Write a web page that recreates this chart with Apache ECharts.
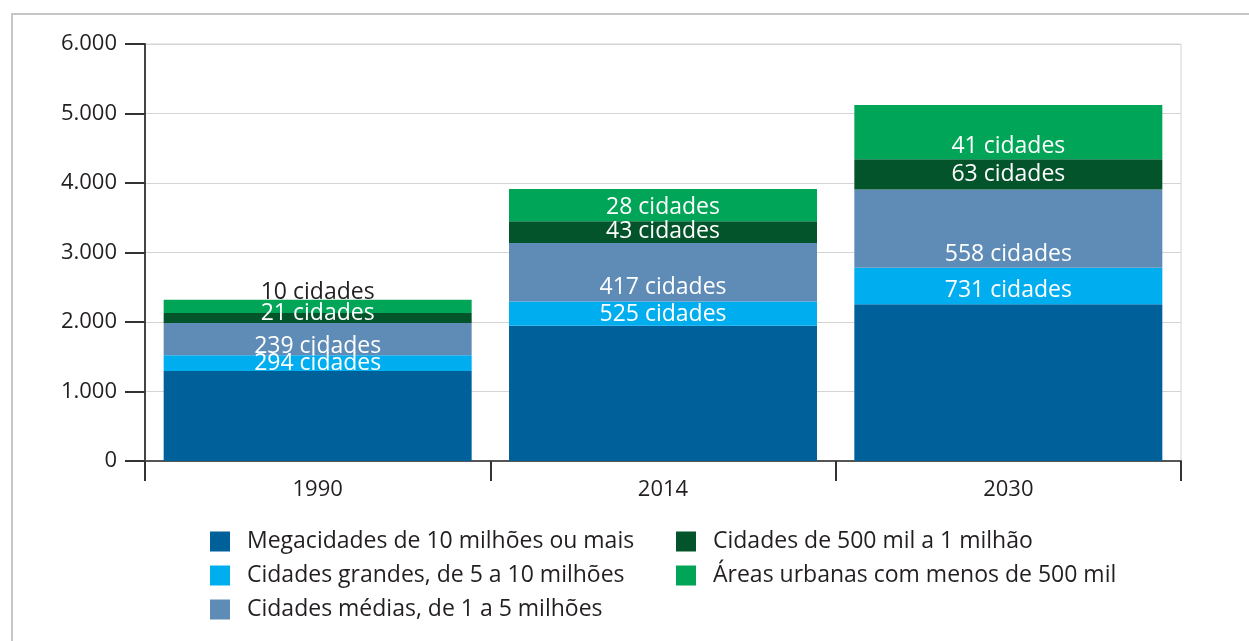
<!DOCTYPE html>
<html>
<head>
<meta charset="utf-8">
<script src="https://cdn.jsdelivr.net/npm/echarts@6/dist/echarts.min.js"></script>
<style>
  html, body { margin: 0; padding: 0; background: #fff; }
  #chart { width: 1249px; height: 641px; }
</style>
</head>
<body>
<div id="chart"></div>
<script>
// anos
var years = ['1990', '2014', '2030'];

// população urbana (milhões)
var mega = [1296, 1947, 2257];
var grandes = [225, 349, 522];
var medias = [464, 842, 1128];
var de500a1mi = [143, 310, 436];
var menos500 = [192, 464, 779];

// número de cidades em cada faixa
var cidGrandes = [294, 525, 731];
var cidMedias = [239, 417, 558];
var cid500a1mi = [21, 43, 63];
var cidMenos500 = [10, 28, 41];

var yTicks = [0, 1000, 2000, 3000, 4000, 5000, 6000];

var names = [
  'Megacidades de 10 milhões ou mais',
  'Cidades grandes, de 5 a 10 milhões',
  'Cidades médias, de 1 a 5 milhões',
  'Cidades de 500 mil a 1 milhão',
  'Áreas urbanas com menos de 500 mil'
];
var colors = ['#00609a', '#00aeef', '#5f8cb7', '#03542b', '#00a557'];

// ajuste vertical dos rótulos (px), igual ao original
var nudge = [
  null,
  [0, 1, 4],
  [7, 15, 26],
  [-5, -1, 0],
  [-14, 2, 14]
];
var textFont = 'Open Sans';
var ink = '#231f20';

function fmt(v) {
  return String(v).replace(/\B(?=(\d{3})+(?!\d))/g, '.');
}

function buildSeries(idx, values, counts) {
  var data = values.map(function (v, i) {
    var item = {value: v};
    if (counts) {
      item.label = {
        show: true,
        position: 'inside',
        offset: [0, nudge[idx][i]],
        formatter: counts[i] + ' cidades',
        color: (idx === 4 && i === 0) ? ink : '#fff'
      };
    }
    return item;
  });
  return {
    name: names[idx],
    type: 'bar',
    stack: 'total',
    barWidth: 308,
    itemStyle: {color: colors[idx]},
    label: {fontFamily: textFont, fontSize: 23},
    data: data
  };
}

var option = {
  animation: false,
  textStyle: {fontFamily: textFont},
  graphic: [{
    type: 'rect',
    shape: {x: 12, y: 14, width: 1400, height: 800},
    style: {fill: 'none', stroke: '#c6c6c6', lineWidth: 2},
    silent: true
  }],
  grid: {
    left: 145, right: 68, top: 44, bottom: 180,
    show: true, borderColor: '#d4d4d4', borderWidth: 1
  },
  legend: [{
    orient: 'vertical', left: 210, top: 530, padding: 0,
    itemWidth: 20, itemHeight: 20, itemGap: 11,
    icon: 'rect',
    textStyle: {fontFamily: textFont, fontSize: 23, color: ink, padding: [0, 0, 0, 12]},
    data: names.slice(0, 3)
  }, {
    orient: 'vertical', left: 676, top: 530, padding: 0,
    itemWidth: 20, itemHeight: 20, itemGap: 11,
    icon: 'rect',
    textStyle: {fontFamily: textFont, fontSize: 23, color: ink, padding: [0, 0, 0, 12]},
    data: names.slice(3)
  }],
  xAxis: {
    type: 'category',
    data: years,
    axisLine: {lineStyle: {color: '#555', width: 2}},
    axisTick: {show: true, length: 20, lineStyle: {color: '#333', width: 2}},
    axisLabel: {fontFamily: textFont, fontSize: 22, color: ink, margin: 18}
  },
  yAxis: {
    type: 'value',
    min: yTicks[0],
    max: yTicks[yTicks.length - 1],
    interval: yTicks[1] - yTicks[0],
    axisLine: {show: true, lineStyle: {color: '#444', width: 2}},
    axisTick: {show: true, length: 20, lineStyle: {color: '#333', width: 2}},
    axisLabel: {fontFamily: textFont, fontSize: 22, color: ink, margin: 28, formatter: fmt},
    splitLine: {lineStyle: {color: '#d4d4d4', width: 1}}
  },
  series: [
    buildSeries(0, mega, null),
    buildSeries(1, grandes, cidGrandes),
    buildSeries(2, medias, cidMedias),
    buildSeries(3, de500a1mi, cid500a1mi),
    buildSeries(4, menos500, cidMenos500)
  ]
};

var chart = echarts.init(document.getElementById('chart'));
chart.setOption(option, true);
</script>
</body>
</html>
